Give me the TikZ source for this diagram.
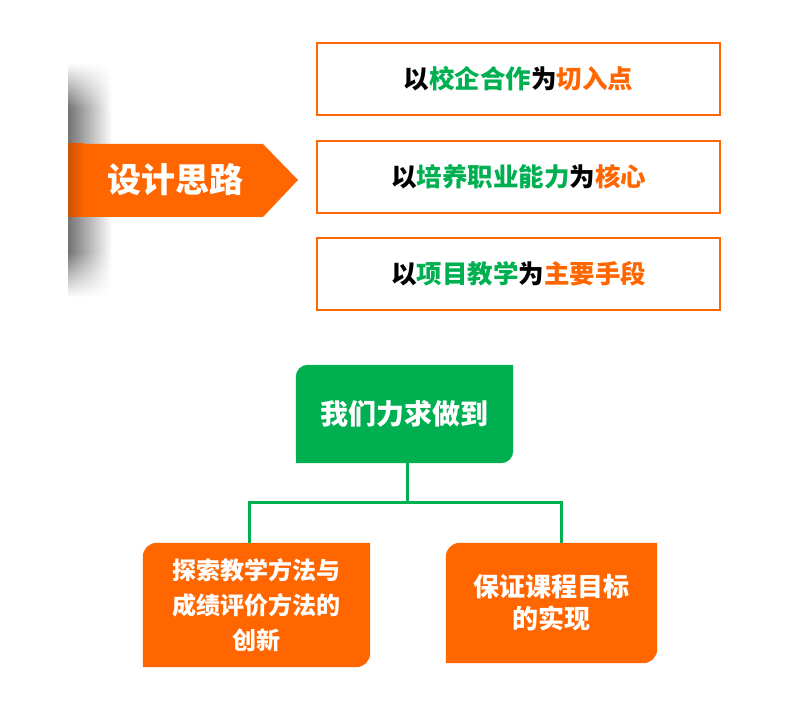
\documentclass[tikz,border=0pt]{standalone}
\usepackage{fontspec}
\setmainfont{Noto Sans CJK SC}
\usetikzlibrary{calc}
\definecolor{org}{HTML}{FF6600}
\definecolor{grn}{HTML}{00B050}
\pgfdeclarelayer{bg}
\pgfsetlayers{bg,main}
\newcommand\tabfill[3]{%
  \fill[#2] (#1.south west) -- ([yshift=-#3]#1.north west)
    arc[start angle=180,end angle=90,radius=#3] -- (#1.north east)
    -- ([yshift=#3]#1.south east) arc[start angle=0,end angle=-90,radius=#3] -- cycle;}
\begin{document}
\begin{tikzpicture}[x=1pt,y=1pt,
  topbox/.style={draw=org,line width=2pt,minimum width=403pt,minimum height=72pt,inner sep=0pt,
    font=\fontsize{25.5}{30}\selectfont\bfseries},
  headtxt/.style={text=white,inner sep=0pt,font=\fontsize{34}{40}\selectfont\bfseries},
  gbox/.style={minimum width=217pt,minimum height=98pt,inner sep=0pt,text=white,
    font=\fontsize{28}{34}\selectfont\bfseries},
  obox/.style={inner sep=0pt,text=white,align=center},
  conn/.style={draw=grn,line width=3pt}]
\useasboundingbox (0,0) rectangle (802,709);
% shadow
\foreach \yy in {411,413,...,645}{%
  \pgfmathtruncatemacro\kk{55*min(1,min((\yy+1-411)/45,(646-\yy-1)/45))}
  \fill[left color=black!\kk,right color=white] (68,\yy) rectangle (112,\yy+2.3);
}
% arrow
\fill[org] (68,565) -- (263,565) -- (298,529) -- (263,492) -- (68,492) -- cycle;
\fill[left color=org!80!black,right color=org] (68,492) rectangle (84,565);
\node[headtxt] (head) at (175,529) {设计思路};
% top boxes
\node[topbox] (t1) at (518.5,630) {以\textcolor{grn}{校企合作}为\textcolor{org}{切入点}};
\node[topbox] (t2) at (518.5,532) {以\textcolor{grn}{培养职业能力}为\textcolor{org}{核心}};
\node[topbox] (t3) at (518.5,435) {以\textcolor{grn}{项目教学}为\textcolor{org}{主要手段}};
% tree
\node[gbox] (g) at (404.5,295) {我们力求做到};
\node[obox,minimum width=227pt,minimum height=124pt,font=\fontsize{24}{35}\selectfont\bfseries]
  (l) at (256.5,104) {探索教学方法与\\成绩评价方法的\\创新};
\node[obox,minimum width=211pt,minimum height=120pt,font=\fontsize{26}{32}\selectfont\bfseries]
  (r) at (551.5,106) {保证课程目标\\的实现};
\begin{pgfonlayer}{bg}
\tabfill{g}{grn}{12pt}
\tabfill{l}{org}{14pt}
\tabfill{r}{org}{14pt}
\end{pgfonlayer}
\coordinate (bus) at (0,206);
\coordinate (gt) at ([xshift=2.5pt]g.south);
\coordinate (lt) at ([xshift=-7.5pt]l.north);
\coordinate (rt) at ([xshift=9.5pt]r.north);
\draw[conn] (gt) -- (gt |- bus);
\draw[conn] (lt) |- (rt |- bus) -- (rt);
\end{tikzpicture}
\end{document}
